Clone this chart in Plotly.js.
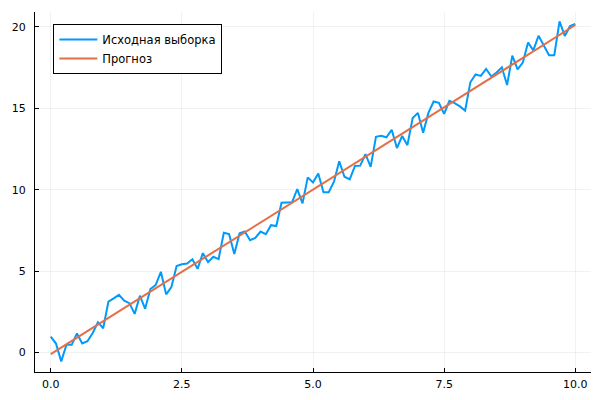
<!DOCTYPE html>
<html>
<head>
<meta charset="utf-8">
<script src="https://cdn.plot.ly/plotly-3.0.1.min.js"></script>
<style>html,body{margin:0;padding:0;background:#fff;}#chart{width:600px;height:400px;}</style>
</head>
<body>
<div id="chart"></div>
<script>
// x values: 0.0, 0.1, ..., 10.0 (101 samples)
const sampleX = [
  0.0,0.1,0.2,0.3,0.4,0.5,0.6,0.7,0.8,0.9,
  1.0,1.1,1.2,1.3,1.4,1.5,1.6,1.7,1.8,1.9,
  2.0,2.1,2.2,2.3,2.4,2.5,2.6,2.7,2.8,2.9,
  3.0,3.1,3.2,3.3,3.4,3.5,3.6,3.7,3.8,3.9,
  4.0,4.1,4.2,4.3,4.4,4.5,4.6,4.7,4.8,4.9,
  5.0,5.1,5.2,5.3,5.4,5.5,5.6,5.7,5.8,5.9,
  6.0,6.1,6.2,6.3,6.4,6.5,6.6,6.7,6.8,6.9,
  7.0,7.1,7.2,7.3,7.4,7.5,7.6,7.7,7.8,7.9,
  8.0,8.1,8.2,8.3,8.4,8.5,8.6,8.7,8.8,8.9,
  9.0,9.1,9.2,9.3,9.4,9.5,9.6,9.7,9.8,9.9,
  10.0
];
const sampleY = [
  0.97,0.55,-0.55,0.48,0.47,1.17,0.55,0.69,1.20,1.86,
  1.49,3.13,3.32,3.54,3.18,3.03,2.37,3.49,2.68,3.90,
  4.14,4.96,3.57,4.02,5.31,5.42,5.47,5.73,5.14,6.10,
  5.55,5.88,5.74,7.36,7.27,6.05,7.33,7.43,6.90,7.04,
  7.43,7.27,7.82,7.77,9.20,9.20,9.23,10.04,9.16,10.76,
  10.45,11.00,9.85,9.85,10.49,11.75,10.80,10.64,11.46,11.48,
  12.18,11.40,13.25,13.32,13.22,13.68,12.56,13.30,12.74,14.40,
  14.72,13.50,14.72,15.42,15.34,14.66,15.46,15.32,15.12,14.86,
  16.60,17.08,16.99,17.42,16.96,17.20,17.52,16.43,18.24,17.39,
  17.81,19.05,18.56,19.46,18.82,18.27,18.27,20.34,19.45,20.05,
  20.18
];
const forecastX = [0, 10];
const forecastY = [-0.10, 20.12];

const seriesNames = ["Исходная выборка", "Прогноз"];
const xTicks = [0, 2.5, 5, 7.5, 10];
const xTickLabels = ["0.0", "2.5", "5.0", "7.5", "10.0"];
const yTicks = [0, 5, 10, 15, 20];
const yTickLabels = ["0", "5", "10", "15", "20"];

const traces = [
  {x: sampleX, y: sampleY, type: 'scatter', mode: 'lines', name: seriesNames[0],
   line: {color: '#009AFA', width: 2}},
  {x: forecastX, y: forecastY, type: 'scatter', mode: 'lines', name: seriesNames[1],
   line: {color: '#E36F47', width: 2}}
];

const axisCommon = {
  showline: true, linecolor: '#000', linewidth: 1, mirror: false,
  showgrid: true, gridcolor: 'rgba(0,0,0,0.1)', gridwidth: 0.5,
  zeroline: false, ticks: 'inside', ticklen: 4, tickcolor: '#000', tickwidth: 1,
  tickfont: {family: 'DejaVu Sans', size: 11, color: '#000'},
  tickmode: 'array'
};

const layout = {
  width: 600, height: 400,
  margin: {l: 35, r: 9, t: 12, b: 28, pad: 0},
  paper_bgcolor: '#fff', plot_bgcolor: '#fff',
  font: {family: 'DejaVu Sans', size: 11, color: '#000'},
  showlegend: true,
  legend: {x: 0.033, y: 0.967, xanchor: 'left', yanchor: 'top',
           bgcolor: '#fff', bordercolor: '#000', borderwidth: 1,
           font: {family: 'DejaVu Sans', size: 11.5, color: '#000'},
           tracegroupgap: 0, itemwidth: 38},
  xaxis: Object.assign({}, axisCommon, {range: [-0.3, 10.3], tickvals: xTicks, ticktext: xTickLabels, ticklabelstandoff: 2}),
  yaxis: Object.assign({}, axisCommon, {range: [-1.2, 20.92], tickvals: yTicks, ticktext: yTickLabels, ticklabelstandoff: 6})
};

Plotly.newPlot('chart', traces, layout, {displayModeBar: false, staticPlot: true});
</script>
</body>
</html>
